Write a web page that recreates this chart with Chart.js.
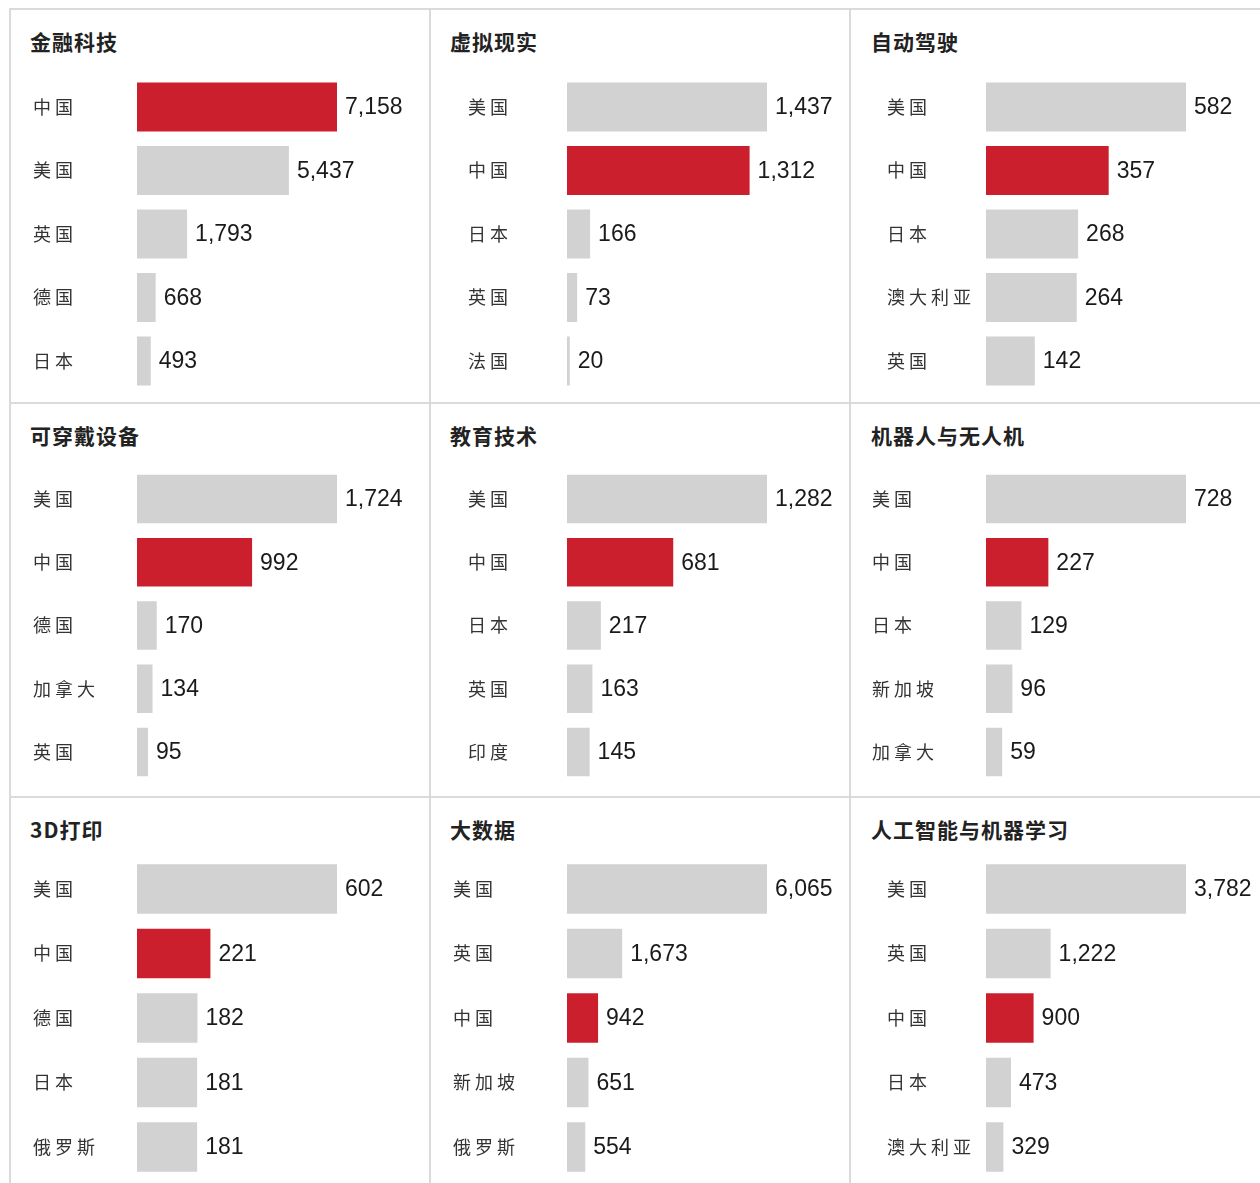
<!DOCTYPE html>
<html lang="zh">
<head>
<meta charset="UTF-8">
<title>各领域专利数量前五国家</title>
<script src="https://cdn.jsdelivr.net/npm/chart.js@4.4.1/dist/chart.umd.min.js"></script>
<style>
    html, body { margin: 0; padding: 0; background: #fff; overflow: hidden; }
    body { width: 1260px; height: 1183px; position: relative; }
    .line { position: absolute; background: #dadada; }
    .title { position: absolute; font-family: "Noto Sans CJK SC"; font-weight: bold; font-size: 21px;
             color: #222; letter-spacing: 1px; line-height: 1; white-space: nowrap; }
    canvas { position: absolute; }
</style>
</head>
<body>
<script>
    // data
    const fintechLabels = ['中国', '美国', '英国', '德国', '日本'];
    const fintechValues = [7158, 5437, 1793, 668, 493];
    const vrLabels = ['美国', '中国', '日本', '英国', '法国'];
    const vrValues = [1437, 1312, 166, 73, 20];
    const autoLabels = ['美国', '中国', '日本', '澳大利亚', '英国'];
    const autoValues = [582, 357, 268, 264, 142];
    const wearLabels = ['美国', '中国', '德国', '加拿大', '英国'];
    const wearValues = [1724, 992, 170, 134, 95];
    const eduLabels = ['美国', '中国', '日本', '英国', '印度'];
    const eduValues = [1282, 681, 217, 163, 145];
    const robotLabels = ['美国', '中国', '日本', '新加坡', '加拿大'];
    const robotValues = [728, 227, 129, 96, 59];
    const printLabels = ['美国', '中国', '德国', '日本', '俄罗斯'];
    const printValues = [602, 221, 182, 181, 181];
    const bigdataLabels = ['美国', '英国', '中国', '新加坡', '俄罗斯'];
    const bigdataValues = [6065, 1673, 942, 651, 554];
    const aiLabels = ['美国', '英国', '中国', '日本', '澳大利亚'];
    const aiValues = [3782, 1222, 900, 473, 329];

    const panels = [
        { title: '金融科技', labels: fintechLabels, values: fintechValues },
        { title: '虚拟现实', labels: vrLabels, values: vrValues },
        { title: '自动驾驶', labels: autoLabels, values: autoValues },
        { title: '可穿戴设备', labels: wearLabels, values: wearValues },
        { title: '教育技术', labels: eduLabels, values: eduValues },
        { title: '机器人与无人机', labels: robotLabels, values: robotValues },
        { title: '3D打印', labels: printLabels, values: printValues },
        { title: '大数据', labels: bigdataLabels, values: bigdataValues },
        { title: '人工智能与机器学习', labels: aiLabels, values: aiValues }
    ];

    const red = '#cc1f2e', gray = '#d2d2d2';

    // layout
    const colLine = [9, 429, 849];
    const rowLine = [8, 402, 796];
    const barLeft = [137, 567, 986];
    const barSpan = 200;
    const rowFirst = [107, 499, 889];
    const rowLast = [361, 752, 1147];
    const labelLeft = [[33, 468, 887], [33, 468, 872], [33, 453, 887]];
    const titleLeft = [30, 450, 871];
    const titleMid = [42, 436, 830];

    colLine.forEach(x => {
        let d = document.createElement('div');
        d.className = 'line';
        d.style.cssText = `left:${x}px;top:${rowLine[0]}px;width:2px;height:${1183 - rowLine[0]}px`;
        document.body.appendChild(d);
    });
    rowLine.forEach(y => {
        let d = document.createElement('div');
        d.className = 'line';
        d.style.cssText = `left:${colLine[0]}px;top:${y}px;width:${1260 - colLine[0]}px;height:2px`;
        document.body.appendChild(d);
    });

    const valueLabels = {
        id: 'valueLabels',
        beforeDraw(chart) {
            chart.ctx.letterSpacing = '4px';
        },
        afterDatasetsDraw(chart) {
            const ctx = chart.ctx;
            ctx.save();
            ctx.letterSpacing = '0px';
            ctx.font = '23px "Liberation Sans", Arial, sans-serif';
            ctx.fillStyle = '#1a1a1a';
            ctx.textAlign = 'left';
            ctx.textBaseline = 'middle';
            chart.getDatasetMeta(0).data.forEach((bar, i) => {
                ctx.fillText(chart.data.datasets[0].data[i].toLocaleString('en-US'), bar.x + 8, bar.y + 1);
            });
            ctx.restore();
        }
    };

    panels.forEach((p, i) => {
        let r = Math.floor(i / 3), c = i % 3;
        let left = colLine[c] + 2, top = rowLine[r] + 2;
        let right = c < 2 ? colLine[c + 1] : 1260;
        let bottom = r < 2 ? rowLine[r + 1] : 1183;
        let step = (rowLast[r] - rowFirst[r]) / (p.labels.length - 1);
        let areaTop = rowFirst[r] - step / 2, areaBottom = rowLast[r] + step / 2;

        let t = document.createElement('div');
        t.className = 'title';
        t.textContent = p.title;
        t.style.left = titleLeft[c] + 'px';
        t.style.top = (titleMid[r] - 11) + 'px';
        document.body.appendChild(t);

        let cv = document.createElement('canvas');
        cv.width = right - left;
        cv.height = bottom - top;
        cv.style.left = left + 'px';
        cv.style.top = top + 'px';
        document.body.appendChild(cv);

        let lx = labelLeft[r][c];
        new Chart(cv, {
            type: 'bar',
            data: {
                labels: p.labels,
                datasets: [{
                    data: p.values,
                    backgroundColor: p.labels.map(l => l === '中国' ? red : gray),
                    barPercentage: 0.77,
                    categoryPercentage: 1
                }]
            },
            options: {
                indexAxis: 'y',
                responsive: false,
                animation: false,
                events: [],
                layout: { padding: { left: lx - left, right: right - (barLeft[c] + barSpan), top: areaTop - top, bottom: bottom - areaBottom } },
                plugins: { legend: { display: false }, tooltip: { enabled: false } },
                scales: {
                    x: { display: false, min: 0, max: Math.max(...p.values) },
                    y: {
                        grid: { display: false },
                        border: { display: false },
                        ticks: { crossAlign: 'far', padding: 0, color: '#333', font: { family: '"Noto Sans CJK SC"', size: 18 } },
                        afterFit(s) {
                            s.width = barLeft[c] - lx;
                            s.paddingTop = 0;
                            s.paddingBottom = 0;
                        }
                    }
                }
            },
            plugins: [valueLabels]
        });
    });
</script>
</body>
</html>
